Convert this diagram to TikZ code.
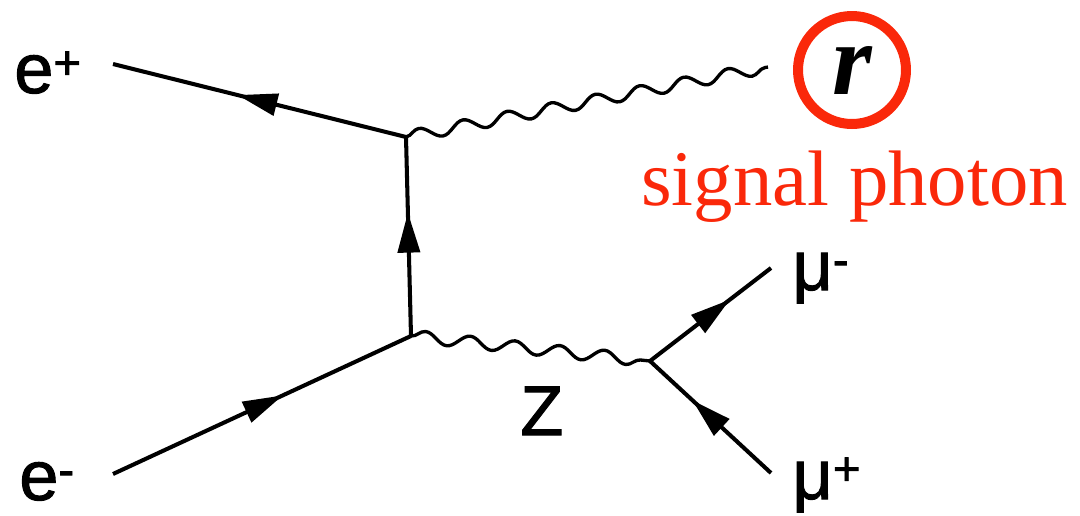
\documentclass[tikz,border=0pt]{standalone}
\usepackage{fontspec}
\setmainfont{Liberation Sans}
\newfontfamily\lblfont[FakeBold=1.4]{Liberation Sans}
\newfontfamily\timesfont{Liberation Serif}
\usetikzlibrary{arrows.meta, decorations.pathmorphing, decorations.markings}
\definecolor{signalred}{RGB}{250, 40, 10}
\newcommand{\chg}[1]{\raisebox{8pt}{\fontsize{27}{30}\selectfont #1}}

\begin{document}
\begin{tikzpicture}[
    x=0.02cm, y=-0.02cm,
    fermion/.style={line width=2.3pt, postaction={decorate},
        decoration={markings, mark=at position #1 with
            {\arrow{Triangle[length=0.8cm, width=0.44cm]}}}},
    fermion/.default=0.6,
    photon/.style={line width=1.9pt, decorate,
        decoration={snake, segment length=0.9cm, amplitude=0.12cm}},
    particle/.style={inner sep=0pt, anchor=base west,
        font=\lblfont\fontsize{40}{48}\selectfont}
  ]
    \useasboundingbox (0,0) rectangle (1080,515);
    % vertices and free ends
    \coordinate (v1) at (406,137);
    \coordinate (v2) at (411,336);
    \coordinate (v3) at (650,361);
    \coordinate (ep)  at (113,64);
    \coordinate (em)  at (113,474);
    \coordinate (mum) at (771,268);
    \coordinate (mup) at (771,473);
    \coordinate (gend) at (768,67);
    % labels
    \node[particle] (lep) at (14,93)  {e\chg{+}};
    \node[particle] (lem) at (19,500) {e\chg{-}};
    \node[particle] (lmum) at (792,290) {μ\chg{-}};
    \node[particle] (lmup) at (792,499) {μ\chg{+}};
    \node[particle] (lz)  at (520,435) {Z};
    \node (gam) [circle, draw=signalred, line width=5.7pt, minimum size=2.16cm,
        inner sep=0pt, font=\fontsize{58}{60}\timesfont\bfseries\itshape]
        at (852,70) {r};
    \node (sig) [inner sep=0pt, anchor=base west, text=signalred,
        font=\fontsize{44.8}{50}\timesfont] at (641,205) {signal photon};
    % lines
    \draw[fermion=0.575] (v1) -- (ep);
    \draw[fermion=0.62]  (v2) -- (v1);
    \draw[fermion=0.57]  (em) -- (v2);
    \draw[fermion=0.66]  (v3) -- (mum);
    \draw[fermion=0.65]  (mup) -- (v3);
    \draw[photon] (v1) -- (gend);
    \draw[photon] (v2) -- (v3);
\end{tikzpicture}
\end{document}
